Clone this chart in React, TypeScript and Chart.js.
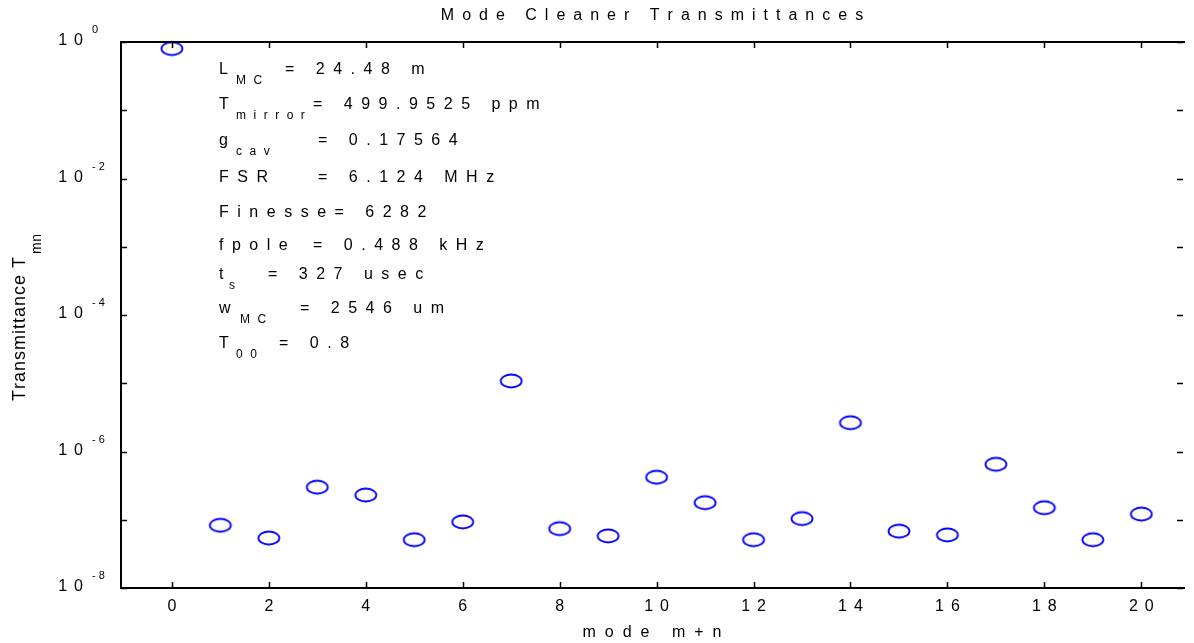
import React, { useEffect, useRef } from 'react';
import { Chart, registerables } from 'chart.js';

Chart.register(...registerables);

// ---------- data ----------
const MODES = [0, 1, 2, 3, 4, 5, 6, 7, 8, 9, 10, 11, 12, 13, 14, 15, 16, 17, 18, 19, 20];
const TRANSMITTANCE = [
  0.8, 8.3e-8, 5.4e-8, 3.0e-7, 2.3e-7, 5.1e-8, 9.3e-8, 1.08e-5, 7.4e-8, 5.8e-8, 4.2e-7,
  1.78e-7, 5.1e-8, 1.04e-7, 2.64e-6, 6.8e-8, 6.0e-8, 6.5e-7, 1.5e-7, 5.1e-8, 1.21e-7,
];
const X_TICKS = [0, 2, 4, 6, 8, 10, 12, 14, 16, 18, 20];
const Y_LABEL_EXPONENTS = [0, -2, -4, -6, -8];
const Y_DECADE_EXPONENTS = [0, -1, -2, -3, -4, -5, -6, -7, -8];
const TITLE = 'Mode Cleaner Transmittances';
const X_TITLE = 'mode m+n';
const Y_TITLE = 'Transmittance T';
const Y_TITLE_SUB = 'mn';
const ANNOTATION_MAIN = ['L', 'T', 'g', 'FSR', 'Finesse= 6282', 'fpole', 't', 'w', 'T'];
const ANNOTATION_SUB = ['MC', 'mirror', 'cav', '', '', '', 's', 'MC', '00'];
const ANNOTATION_REST = ['= 24.48 m', '= 499.9525 ppm', '= 0.17564', '= 6.124 MHz', '', '= 0.488 kHz', '= 327 usec', '= 2546 um', '= 0.8'];

// ---------- layout / style ----------
const W = 1194;
const H = 643;
const FONT = "'Liberation Sans', Arial, Helvetica, sans-serif";
const ANN_BASELINES = [74, 109, 145, 182, 217, 250, 279, 313, 348];
const ANN_SUB_X = [236, 236, 236, 0, 0, 0, 229, 240, 236];
const ANN_REST_X = [285, 313, 318, 318, 0, 313, 268, 300, 279];

function drawSpaced(
  ctx: CanvasRenderingContext2D,
  text: string,
  x: number,
  y: number,
  size: number,
  ls: number,
  align: 'left' | 'center' | 'right' = 'left'
) {
  ctx.font = `${size}px ${FONT}`;
  ctx.textAlign = 'left';
  const widths = Array.from(text).map((c) => ctx.measureText(c).width);
  const total = widths.reduce((a, b) => a + b, 0) + ls * (widths.length - 1);
  let cx = x;
  if (align === 'center') cx = x - total / 2;
  if (align === 'right') cx = x - total;
  Array.from(text).forEach((c, i) => {
    ctx.fillText(c, cx, y);
    cx += widths[i] + ls;
  });
  return total;
}

function makeEllipse(): HTMLCanvasElement {
  const c = document.createElement('canvas');
  c.width = 26;
  c.height = 18;
  const g = c.getContext('2d')!;
  g.strokeStyle = '#0000ff';
  g.lineWidth = 1.8;
  g.beginPath();
  g.ellipse(13, 9, 10.5, 6.5, 0, 0, Math.PI * 2);
  g.stroke();
  return c;
}

const decorPlugin = {
  id: 'matlabDecor',
  afterDraw(chart: any) {
    const ctx: CanvasRenderingContext2D = chart.ctx;
    const { left, right, top, bottom } = chart.chartArea;
    const xs = chart.scales.x;
    const ys = chart.scales.y;
    ctx.save();
    ctx.fillStyle = '#000';
    ctx.strokeStyle = '#000';

    // frame: left, bottom, top
    ctx.lineWidth = 2;
    ctx.beginPath();
    ctx.moveTo(left, top);
    ctx.lineTo(left, bottom);
    ctx.moveTo(left - 1, bottom);
    ctx.lineTo(right + 2, bottom);
    ctx.moveTo(left - 1, top);
    ctx.lineTo(right + 2, top);
    ctx.stroke();

    // x ticks (inward, top and bottom)
    ctx.lineWidth = 1.5;
    X_TICKS.forEach((v) => {
      const px = Math.round(xs.getPixelForValue(v)) + 0.5;
      ctx.beginPath();
      ctx.moveTo(px, bottom);
      ctx.lineTo(px, bottom - 6);
      ctx.moveTo(px, top);
      ctx.lineTo(px, top + 6);
      ctx.stroke();
    });
    // y decade ticks (inward, left and right)
    Y_DECADE_EXPONENTS.forEach((e) => {
      const py = Math.round(ys.getPixelForValue(Math.pow(10, e))) + 0.5;
      ctx.beginPath();
      ctx.moveTo(left, py);
      ctx.lineTo(left + 6, py);
      ctx.moveTo(right, py);
      ctx.lineTo(right - 6, py);
      ctx.stroke();
    });

    // x tick labels
    X_TICKS.forEach((v) => {
      const px = xs.getPixelForValue(v);
      drawSpaced(ctx, String(v), px, bottom + 23, 16, 7, 'center');
    });
    // y tick labels 10^e
    Y_LABEL_EXPONENTS.forEach((e) => {
      const py = ys.getPixelForValue(Math.pow(10, e));
      drawSpaced(ctx, '10', 83, py + 3, 16, 7, 'right');
      drawSpaced(ctx, String(e), 92, py - 9, 11, 3, 'left');
    });

    // title
    drawSpaced(ctx, TITLE, (left + right) / 2, 20, 16, 8, 'center');
    // x title
    drawSpaced(ctx, X_TITLE, (left + right) / 2, 637, 16, 9, 'center');
    // y title (rotated)
    ctx.save();
    ctx.translate(25, 329);
    ctx.rotate(-Math.PI / 2);
    const wy = drawSpaced(ctx, Y_TITLE, 0, 0, 18, 1, 'center');
    drawSpaced(ctx, Y_TITLE_SUB, wy / 2 + 3, 16, 14, 0.5, 'left');
    ctx.restore();

    // annotations
    ANNOTATION_MAIN.forEach((m, i) => {
      const by = ANN_BASELINES[i];
      drawSpaced(ctx, m, 219, by, 16, 8.5, 'left');
      if (ANNOTATION_SUB[i]) drawSpaced(ctx, ANNOTATION_SUB[i], ANN_SUB_X[i], by + 10, 12, 7.5, 'left');
      if (ANNOTATION_REST[i]) drawSpaced(ctx, ANNOTATION_REST[i], ANN_REST_X[i], by, 16, 8.5, 'left');
    });

    ctx.restore();
  },
};

export default function App() {
  const ref = useRef<HTMLCanvasElement | null>(null);
  useEffect(() => {
    if (!ref.current) return;
    const ellipse = makeEllipse();
    const chart = new Chart(ref.current, {
      type: 'scatter',
      data: {
        datasets: [
          {
            label: 'T_mn',
            data: MODES.map((m, i) => ({ x: m, y: TRANSMITTANCE[i] })),
            pointStyle: ellipse as any,
            pointRadius: 10,
            showLine: false,
            clip: false as any,
          },
        ],
      },
      options: {
        animation: false,
        responsive: false,
        devicePixelRatio: 1,
        layout: { padding: { left: 121, right: 5, top: 42, bottom: 55 } },
        plugins: { legend: { display: false }, tooltip: { enabled: false }, title: { display: false } },
        scales: {
          x: { type: 'linear', min: -1.05, max: 20.86, display: false },
          y: { type: 'logarithmic', min: 1e-8, max: 1, display: false },
        },
      },
      plugins: [decorPlugin],
    });
    return () => chart.destroy();
  }, []);
  return (
    <div style={{ position: 'fixed', left: 0, top: 0, width: W, height: H, background: '#fff' }}>
      <canvas ref={ref} width={W} height={H} style={{ display: 'block' }} />
    </div>
  );
}
